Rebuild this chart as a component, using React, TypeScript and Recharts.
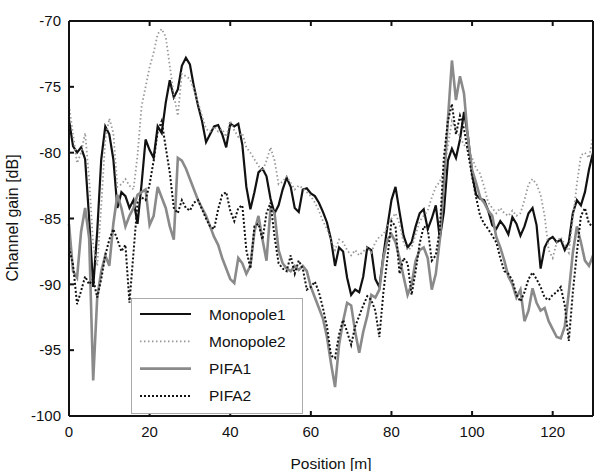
import { LineChart, Line, XAxis, YAxis, Legend } from 'recharts';

const positions = Array.from({ length: 131 }, (_, i) => i);

const monopole1 = [
    -77.5, -79.5, -80, -79.6, -80.5, -85, -90.2, -86, -80.5, -78,
    -78.6, -80.5, -84.2, -83, -83.3, -84.2, -83.6, -85.4, -82.4, -79,
    -79.8, -80.4, -78, -78.5, -76.2, -74.5, -75.8, -75.2, -73.4, -72.8,
    -73.3, -75, -76.4, -77.6, -79.2, -78.6, -78, -77.9, -78.6, -79.6,
    -77.8, -78, -77.8, -79.4, -82.6, -84.3, -83, -81.5, -81.2, -81.8,
    -83.5, -84.6, -84, -82.8, -81.9, -82.6, -84.2, -84.5, -82.8, -82.7,
    -83.1, -83.3, -83.8, -84.5, -85.3, -86.6, -88.6, -87.2, -87.5, -89.5,
    -90.8, -90.4, -90.6, -89.4, -87.2, -87.4, -89.6, -90.2, -87.8, -85.6,
    -83.6, -82.6, -84.5, -86.3, -87.2, -86.8, -85.6, -84.6, -84.3, -85.8,
    -85, -84, -86.5, -84.5, -80.6, -79.7, -80.4, -79, -76.9, -78.8,
    -81.6, -83.2, -83.5, -83.6, -84.4, -85.5, -85.8, -85.2, -85.6, -86.2,
    -84.9, -85.4, -86.3, -85.6, -84.6, -84.2, -85.5, -88.8, -87.2, -86.6,
    -86.4, -86.8, -86.6, -87.4, -86.8, -84.6, -83.6, -84, -83, -81.3,
    -80,
];

const monopole2 = [
    -76.4, -78.6, -80.8, -80, -78.5, -82, -87, -88.6, -84, -79,
    -77.4, -78.5, -82.6, -82.4, -82, -82.5, -82.8, -80.2, -76.5, -75,
    -73.5, -72.4, -71, -70.6, -71.2, -73.4, -75.6, -77.2, -74, -74.2,
    -74.4, -75.2, -76.2, -77.2, -78.2, -78.4, -78, -78.4, -78.2, -78.8,
    -77.6, -78.3, -78.8, -78.5, -79.6, -80, -80.5, -81, -81.4, -80.6,
    -79.6, -80.6, -82.4, -82.2, -81.8, -82.3, -82.8, -82.5, -82.7, -83,
    -83.3, -83.8, -84.4, -85.2, -85.8, -86.6, -87.4, -86.6, -86.8, -87.4,
    -87.8, -87.4, -87.8, -87.5, -87.2, -87.6, -86.8, -86.4, -86.2, -85.6,
    -85, -84.6, -85.4, -86.8, -87.4, -87.2, -86.2, -85.2, -84.8, -84.4,
    -83.4, -82.6, -82.2, -81.4, -79.5, -77.6, -78.2, -78.8, -79.4, -79.8,
    -80.4, -81.2, -81.6, -82.6, -83.8, -84.2, -84.6, -84.2, -84.6, -84.8,
    -84.4, -84.8, -84.6, -83.6, -82.4, -82, -82.4, -83.2, -84.8, -87.4,
    -88, -86.8, -86.4, -87, -87.6, -85, -82.4, -80.2, -80, -80.4,
    -78.8,
];

const pifa1 = [
    -85.4, -89, -89.5, -86, -84.2, -86.5, -97.3, -91, -89, -87.8,
    -88.6, -85.4, -83.2, -84.2, -85.6, -84.8, -84.2, -83.2, -83, -82.8,
    -85.5, -84.8, -82.6, -83.4, -84.2, -85.6, -86.6, -80.4, -80.6, -81.2,
    -82, -82.8, -83.6, -84.2, -84.8, -85.6, -86.4, -87, -88, -88.8,
    -89.6, -89.9, -88, -88.4, -89.2, -88.6, -86, -84.8, -86.6, -88.2,
    -84.2, -84.6, -87.4, -88.4, -88.8, -89, -88.6, -88.9, -88.6, -89,
    -90.2, -91, -91.8, -92.6, -94, -96, -97.8, -94.6, -92.8, -91.4,
    -91.6, -93.6, -95.2, -93.6, -92.4, -90.8, -91, -90.4, -88, -86.6,
    -86.2, -86.8, -88, -89.4, -90.8, -90, -88.2, -87.4, -87.2, -88,
    -90.4, -89.2, -86.6, -82.4, -77.5, -73, -76, -74.2, -75.5, -79,
    -81.3, -82.3, -83.4, -83.8, -84.4, -84.8, -86.4, -87.2, -88.2, -89.4,
    -90, -91, -90.4, -92.8, -92, -90.3, -91.4, -92, -91.8, -92.8,
    -93.4, -94, -94.1, -93.2, -90.6, -87.6, -85.6, -86.8, -88.2, -88.6,
    -87.8,
];

const pifa2 = [
    -87.2, -88.5, -91.5, -90.5, -89.4, -90, -89.6, -91, -89.6, -87.8,
    -86.6, -85.8, -86.6, -87.5, -87, -91.4, -87.6, -83.8, -83.4, -83.6,
    -82.4, -80.6, -78.4, -77.6, -79.6, -81.5, -84.2, -84.6, -83.6, -84.2,
    -84.4, -83.8, -83.6, -84.3, -85, -85.6, -85.8, -84.3, -83.2, -83,
    -84.4, -85.2, -84.2, -84, -87.4, -88.8, -85.6, -85.4, -86.6, -84.6,
    -83.8, -86.4, -88.4, -88.8, -89, -87.8, -89.2, -88.2, -88.8, -90.4,
    -90.2, -89.8, -90.6, -91.8, -93.2, -95.4, -95.6, -93.8, -92.7, -93.6,
    -94.6, -93.2, -92.4, -91.6, -90.9, -91.2, -92, -94, -90.6, -88,
    -85.2, -85.6, -89.2, -88, -88.4, -90.8, -89, -86.9, -85.6, -85.8,
    -88.2, -87.8, -85.8, -80.4, -77.6, -76.3, -78.6, -77.2, -78.2, -80,
    -81.8, -83.4, -84.8, -85.4, -85.8, -86.3, -86.8, -88, -89, -89.2,
    -89.7, -90.8, -91.3, -90.6, -89.6, -89.1, -89.6, -90.2, -91, -91.2,
    -90.8, -90.6, -90.2, -91.6, -94.3, -90.6, -87.6, -84.8, -84.2, -85.4,
    -85.6,
];

const xTicks = [0, 20, 40, 60, 80, 100, 120];
const yTicks = [-100, -95, -90, -85, -80, -75, -70];

const seriesNames = ['Monopole1', 'Monopole2', 'PIFA1', 'PIFA2'];

const data = positions.map((x, i) => ({
    x,
    m1: monopole1[i],
    m2: monopole2[i],
    p1: pifa1[i],
    p2: pifa2[i],
}));

const font = '"Liberation Sans", Arial, sans-serif';
const tickStyle = { fontSize: 15, fill: '#111', fontFamily: font };

const styles = [
    { stroke: '#111', strokeWidth: 2.2, dash: undefined },
    { stroke: '#999', strokeWidth: 1.8, dash: '1.5 2.5' },
    { stroke: '#8a8a8a', strokeWidth: 2.6, dash: undefined },
    { stroke: '#111', strokeWidth: 2, dash: '2 2' },
];

const LegendBox = () => (
    <svg width={172} height={116} style={{ display: 'block' }}>
        <rect x={0.5} y={0.5} width={171} height={115} fill="#fff" stroke="#aaa" />
        {seriesNames.map((name, i) => {
            const cy = 16 + i * 27.3;
            const s = styles[i];
            return (
                <g key={name}>
                    <line
                        x1={9}
                        x2={60}
                        y1={cy}
                        y2={cy}
                        stroke={s.stroke}
                        strokeWidth={s.strokeWidth}
                        strokeDasharray={s.dash}
                    />
                    <text
                        x={78}
                        y={cy + 5.5}
                        fontSize={15.5}
                        fontFamily={font}
                        fill="#111"
                    >
                        {name}
                    </text>
                </g>
            );
        })}
    </svg>
);

export default function App() {
    return (
        <div style={{ position: 'absolute', left: 0, top: 0, background: '#fff' }}>
            <LineChart
                width={595}
                height={471}
                data={data}
                margin={{ top: 20, right: 1, bottom: 0, left: 0 }}
            >
                <XAxis
                    dataKey="x"
                    type="number"
                    domain={[0, 130]}
                    ticks={xTicks}
                    height={55}
                    tickSize={-5}
                    tickMargin={15}
                    tick={tickStyle}
                    axisLine={{ stroke: '#111', strokeWidth: 2 }}
                    tickLine={{ stroke: '#111', strokeWidth: 2 }}
                    label={{
                        content: () => (
                            <text
                                x={331}
                                y={469}
                                textAnchor="middle"
                                fontSize={15.5}
                                fontFamily={font}
                                fill="#111"
                            >
                                Position [m]
                            </text>
                        ),
                    }}
                />
                <XAxis
                    xAxisId="top"
                    orientation="top"
                    dataKey="x"
                    type="number"
                    domain={[0, 130]}
                    ticks={xTicks}
                    height={1}
                    tickSize={-5}
                    tickFormatter={() => ''}
                    axisLine={{ stroke: '#111', strokeWidth: 2 }}
                    tickLine={{ stroke: '#111', strokeWidth: 2 }}
                />
                <YAxis
                    type="number"
                    domain={[-100, -70]}
                    ticks={yTicks}
                    width={69}
                    tickSize={-5}
                    tickMargin={13}
                    tick={tickStyle}
                    axisLine={{ stroke: '#111', strokeWidth: 2 }}
                    tickLine={{ stroke: '#111', strokeWidth: 2 }}
                    label={{
                        content: () => (
                            <text
                                x={18}
                                y={218}
                                transform="rotate(-90 18 218)"
                                textAnchor="middle"
                                fontSize={16}
                                fontFamily={font}
                                fill="#111"
                            >
                                Channel gain [dB]
                            </text>
                        ),
                    }}
                />
                <YAxis
                    yAxisId="right"
                    orientation="right"
                    type="number"
                    domain={[-100, -70]}
                    ticks={yTicks}
                    width={1}
                    tickSize={-5}
                    tickFormatter={() => ''}
                    axisLine={{ stroke: '#111', strokeWidth: 2 }}
                    tickLine={{ stroke: '#111', strokeWidth: 2 }}
                />
                <Legend
                    layout="vertical"
                    align="center"
                    verticalAlign="middle"
                    content={() => <LegendBox />}
                    wrapperStyle={{ left: 131, top: 298, width: 172, height: 116 }}
                />
                {['m1', 'm2', 'p1', 'p2'].map((key, i) => (
                    <Line
                        key={key}
                        dataKey={key}
                        name={seriesNames[i]}
                        type="linear"
                        stroke={styles[i].stroke}
                        strokeWidth={styles[i].strokeWidth}
                        strokeDasharray={styles[i].dash}
                        dot={false}
                        activeDot={false}
                        isAnimationActive={false}
                    />
                ))}
            </LineChart>
        </div>
    );
}
